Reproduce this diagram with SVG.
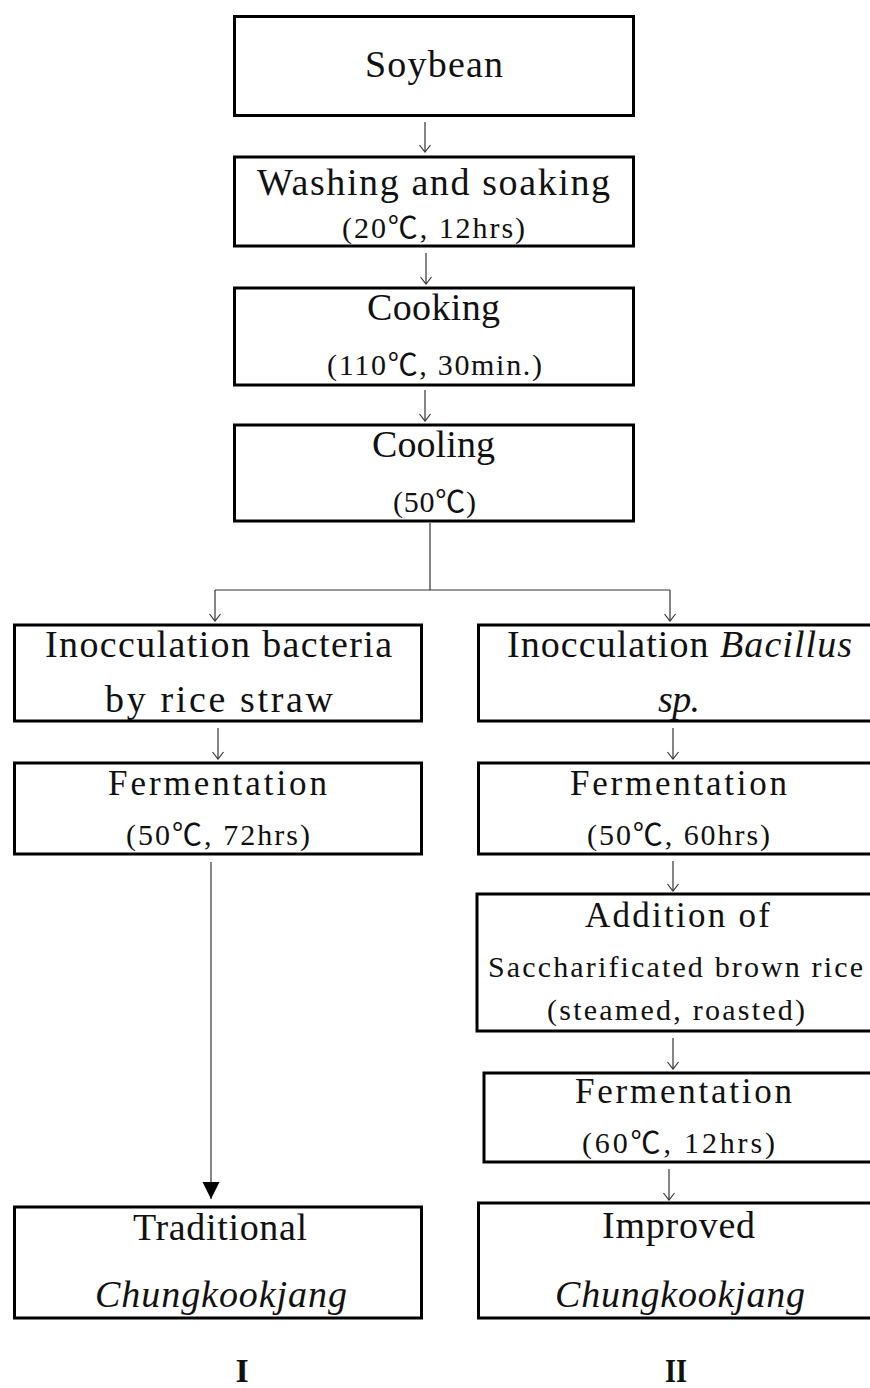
<svg xmlns="http://www.w3.org/2000/svg" width="870" height="1388" viewBox="0 0 870 1388">
<style>
.box{fill:#fff;stroke:#000;stroke-width:3}
.t{font-family:"Liberation Serif","Noto Sans CJK KR",serif;fill:#111;text-anchor:middle}
.big{font-size:38px}
.mid{font-size:35px}
.sm{font-size:30px}
.it{font-style:italic}
.num{font-size:34px;font-weight:bold}
.ln{fill:none;stroke:#333;stroke-width:1.2}
</style>
<defs>
<marker id="open2" markerUnits="userSpaceOnUse" markerWidth="14" markerHeight="12" refX="10" refY="6" orient="auto" viewBox="0 0 14 12">
<path d="M3,0.5 L10,6 L3,11.5" fill="none" stroke="#333" stroke-width="1.2"/>
</marker>
<marker id="solid" markerUnits="userSpaceOnUse" markerWidth="20" markerHeight="20" refX="17" refY="9" orient="auto" viewBox="0 0 20 20">
<path d="M0,0.5 L17,9 L0,17.5 Z" fill="#000"/>
</marker>
</defs>

<g id="connectors">
<line class="ln" x1="425" y1="122" x2="425" y2="152" marker-end="url(#open2)"/>
<line class="ln" x1="426" y1="253" x2="426" y2="284" marker-end="url(#open2)"/>
<line class="ln" x1="425" y1="390" x2="425" y2="421" marker-end="url(#open2)"/>
<line class="ln" x1="430" y1="523" x2="430" y2="590"/>
<line class="ln" x1="215" y1="590" x2="670" y2="590"/>
<line class="ln" x1="215" y1="590" x2="215" y2="621" marker-end="url(#open2)"/>
<line class="ln" x1="670" y1="590" x2="670" y2="621" marker-end="url(#open2)"/>
<line class="ln" x1="218" y1="728" x2="218" y2="759" marker-end="url(#open2)"/>
<line class="ln" x1="673" y1="728" x2="673" y2="759" marker-end="url(#open2)"/>
<line class="ln" x1="673" y1="861" x2="673" y2="891" marker-end="url(#open2)"/>
<line class="ln" x1="673" y1="1038" x2="673" y2="1069" marker-end="url(#open2)"/>
<line class="ln" x1="669" y1="1169" x2="669" y2="1200" marker-end="url(#open2)"/>
<line class="ln" x1="211" y1="862" x2="211" y2="1199" marker-end="url(#solid)"/>
</g>

<g id="soybean">
<rect class="box" x="234.5" y="16.5" width="399" height="99"/>
<text class="t big" x="434" y="77" textLength="138" lengthAdjust="spacing">Soybean</text>
</g>
<g id="washing">
<rect class="box" x="234.5" y="157" width="399" height="89"/>
<text class="t big" x="433.5" y="195" textLength="353" lengthAdjust="spacing">Washing and soaking</text>
<text class="t sm" x="433.5" y="238" textLength="183" lengthAdjust="spacing">(20℃, 12hrs)</text>
</g>
<g id="cooking">
<rect class="box" x="234.5" y="288" width="399" height="97"/>
<text class="t big" x="433.5" y="320" textLength="133" lengthAdjust="spacing">Cooking</text>
<text class="t sm" x="434.5" y="375" textLength="215" lengthAdjust="spacing">(110℃, 30min.)</text>
</g>
<g id="cooling">
<rect class="box" x="234.5" y="425" width="399" height="96"/>
<text class="t big" x="433.5" y="457" textLength="123" lengthAdjust="spacing">Cooling</text>
<text class="t sm" x="434.5" y="512" textLength="83" lengthAdjust="spacing">(50℃)</text>
</g>

<g id="inoc-left">
<rect class="box" x="14.5" y="625" width="407" height="96"/>
<text class="t big" x="218.5" y="657" textLength="347" lengthAdjust="spacing">Inocculation bacteria</text>
<text class="t big" x="219" y="712" textLength="228" lengthAdjust="spacing">by rice straw</text>
</g>
<g id="ferm-left">
<rect class="box" x="14.5" y="763" width="407" height="91"/>
<text class="t mid" x="217.5" y="795" textLength="219" lengthAdjust="spacing">Fermentation</text>
<text class="t sm" x="218" y="845" textLength="184" lengthAdjust="spacing">(50℃, 72hrs)</text>
</g>
<g id="traditional">
<rect class="box" x="14.5" y="1207" width="407" height="111"/>
<text class="t big" x="220" y="1240" textLength="174" lengthAdjust="spacing">Traditional</text>
<text class="t big it" x="221" y="1307" textLength="252" lengthAdjust="spacing">Chungkookjang</text>
</g>
<g id="label-I">
<text class="t num" x="242" y="1382">I</text>
</g>

<g id="inoc-right">
<rect class="box" x="478.5" y="625" width="407" height="96"/>
<text class="t big" x="507" y="657" style="text-anchor:start" textLength="345" lengthAdjust="spacing">Inocculation <tspan class="it">Bacillus</tspan></text>
<text class="t big it" x="679" y="712" textLength="42" lengthAdjust="spacing">sp.</text>
</g>
<g id="ferm-right">
<rect class="box" x="478.5" y="763" width="407" height="91"/>
<text class="t mid" x="678.5" y="795" textLength="217" lengthAdjust="spacing">Fermentation</text>
<text class="t sm" x="678.5" y="845" textLength="183" lengthAdjust="spacing">(50℃, 60hrs)</text>
</g>
<g id="addition">
<rect class="box" x="477" y="894" width="407" height="137"/>
<text class="t mid" x="677.5" y="927" textLength="185" lengthAdjust="spacing">Addition of</text>
<text class="t sm" x="675.5" y="977" textLength="375" lengthAdjust="spacing">Saccharificated brown rice</text>
<text class="t sm" x="676" y="1020" textLength="258" lengthAdjust="spacing">(steamed, roasted)</text>
</g>
<g id="ferm-3">
<rect class="box" x="484" y="1073" width="407" height="89"/>
<text class="t mid" x="683.5" y="1103" textLength="217" lengthAdjust="spacing">Fermentation</text>
<text class="t sm" x="678.5" y="1153" textLength="193" lengthAdjust="spacing">(60℃, 12hrs)</text>
</g>
<g id="improved">
<rect class="box" x="478.5" y="1203" width="407" height="115"/>
<text class="t big" x="678.5" y="1238" textLength="153" lengthAdjust="spacing">Improved</text>
<text class="t big it" x="680" y="1307" textLength="250" lengthAdjust="spacing">Chungkookjang</text>
</g>
<g id="label-II">
<text class="t num" x="676" y="1382" textLength="22" lengthAdjust="spacingAndGlyphs">II</text>
</g>
</svg>
